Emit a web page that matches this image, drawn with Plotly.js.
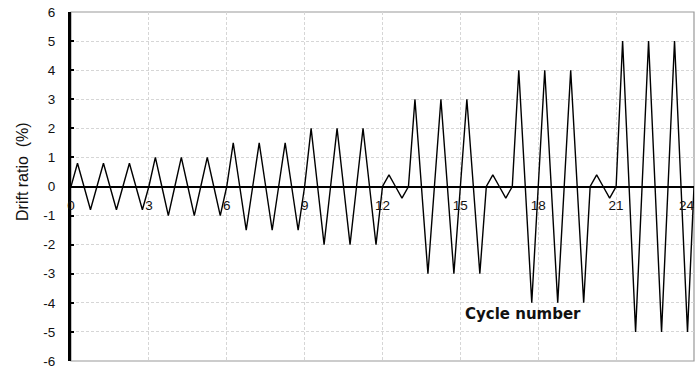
<!DOCTYPE html>
<html>
<head>
<meta charset="utf-8">
<script src="https://cdn.plot.ly/plotly-3.0.1.min.js"></script>
<style>html,body{margin:0;padding:0;background:#fff;}#chart{width:698px;height:369px;}</style>
</head>
<body>
<div id="chart"></div>
<script>
// Cycle time (cycle number) at each turning point
const cycleTime = [
  0, 0.25, 0.5, 0.75, 1, 1.25, 1.5, 1.75, 2, 2.25, 2.5, 2.75,
  3, 3.25, 3.5, 3.75, 4, 4.25, 4.5, 4.75, 5, 5.25, 5.5, 5.75,
  6, 6.25, 6.5, 6.75, 7, 7.25, 7.5, 7.75, 8, 8.25, 8.5, 8.75,
  9, 9.25, 9.5, 9.75, 10, 10.25, 10.5, 10.75, 11, 11.25, 11.5, 11.75,
  12, 12.25, 12.5, 12.75,
  13, 13.25, 13.5, 13.75, 14, 14.25, 14.5, 14.75, 15, 15.25, 15.5, 15.75,
  16, 16.25, 16.5, 16.75,
  17, 17.25, 17.5, 17.75, 18, 18.25, 18.5, 18.75, 19, 19.25, 19.5, 19.75,
  20, 20.25, 20.5, 20.75,
  21, 21.25, 21.5, 21.75, 22, 22.25, 22.5, 22.75, 23, 23.25, 23.5, 23.75,
  24
];
// Drift ratio (%) at each turning point
const driftRatio = [
  0, 0.8, 0, -0.8, 0, 0.8, 0, -0.8, 0, 0.8, 0, -0.8,
  0, 1, 0, -1, 0, 1, 0, -1, 0, 1, 0, -1,
  0, 1.5, 0, -1.5, 0, 1.5, 0, -1.5, 0, 1.5, 0, -1.5,
  0, 2, 0, -2, 0, 2, 0, -2, 0, 2, 0, -2,
  0, 0.4, 0, -0.4,
  0, 3, 0, -3, 0, 3, 0, -3, 0, 3, 0, -3,
  0, 0.4, 0, -0.4,
  0, 4, 0, -4, 0, 4, 0, -4, 0, 4, 0, -4,
  0, 0.4, 0, -0.4,
  0, 5, 0, -5, 0, 5, 0, -5, 0, 5, 0, -5,
  0
];
const xTickVals = [0, 3, 6, 9, 12, 15, 18, 21, 24];
const xTickLabels = ["0", "3", "6", "9", "12", "15", "18", "21", "24"];
const yTickVals = [-6, -5, -4, -3, -2, -1, 0, 1, 2, 3, 4, 5, 6];
const yTickLabels = ["-6", "-5", "-4", "-3", "-2", "-1", "0", "1", "2", "3", "4", "5", "6"];

const lastIdx = xTickVals.length - 1;
// the last label sits at the right edge; draw it right-aligned so it stays inside the page
const axisTickText = xTickLabels.map((t, i) => (i === lastIdx ? '' : t));

const trace = {
  x: cycleTime, y: driftRatio, type: 'scatter', mode: 'lines',
  line: {color: '#000', width: 1.4}, hoverinfo: 'skip', showlegend: false
};

const layout = {
  width: 698, height: 369,
  margin: {l: 71, r: 4, t: 12, b: 8},
  paper_bgcolor: '#fff', plot_bgcolor: '#fff',
  font: {family: 'Liberation Sans, Arial, sans-serif', color: '#111', size: 13},
  xaxis: {
    range: [0, 24], anchor: 'free', position: 0.5,
    tickmode: 'array', tickvals: xTickVals, ticktext: axisTickText,
    ticks: '', ticklabelstandoff: 6,
    showline: true, linecolor: '#000', linewidth: 2.5,
    showgrid: true, gridcolor: '#d6d6d6', griddash: '3px,2px', gridwidth: 1,
    zeroline: false, tickfont: {size: 13.5}, layer: 'above traces'
  },
  yaxis: {
    range: [-6, 6],
    tickmode: 'array', tickvals: yTickVals, ticktext: yTickLabels,
    ticks: 'inside', ticklen: 3, tickwidth: 2, tickcolor: '#000',
    showline: true, linecolor: '#000', linewidth: 3,
    showgrid: true, gridcolor: '#d6d6d6', griddash: '3px,2px', gridwidth: 1,
    zeroline: false, ticklabelstandoff: 10, tickfont: {size: 13.5}
  },
  shapes: [{
    type: 'rect', xref: 'paper', yref: 'paper', x0: 0, x1: 1, y0: 0, y1: 1,
    line: {color: '#999', width: 1.2}, fillcolor: 'rgba(0,0,0,0)', layer: 'below'
  }],
  annotations: [{
    x: xTickVals[lastIdx], y: 0, xref: 'x', yref: 'y', text: xTickLabels[lastIdx],
    xanchor: 'right', yanchor: 'top', xshift: 3, yshift: -9, showarrow: false,
    font: {size: 13.5, color: '#111'}
  }, {
    x: 17.4, y: -4.4, xref: 'x', yref: 'y', text: '<b>Cycle number</b>',
    showarrow: false, font: {family: 'DejaVu Sans, sans-serif', size: 15, color: '#111'}
  }, {
    xref: 'paper', yref: 'paper', x: -49 / 623, y: (361 - 172) / 349,
    xanchor: 'center', yanchor: 'middle', textangle: -90,
    text: 'Drift ratio  (%)', showarrow: false,
    font: {size: 16, color: '#111'}
  }]
};

Plotly.newPlot('chart', [trace], layout, {staticPlot: true, displayModeBar: false});
</script>
</body>
</html>
